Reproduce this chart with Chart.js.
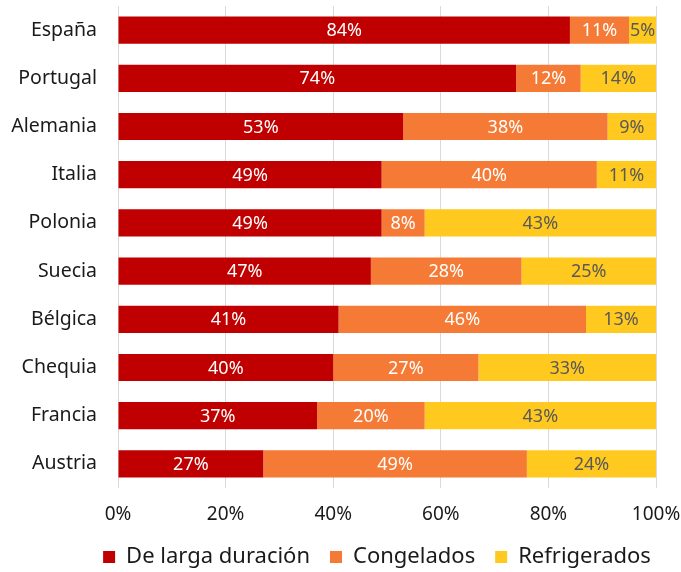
<!DOCTYPE html>
<html>
<head>
<meta charset="utf-8">
<script src="https://cdn.jsdelivr.net/npm/chart.js@4"></script>
<style>
  html, body { margin: 0; padding: 0; background: #fff; }
  #wrap { width: 681px; height: 572px; }
</style>
</head>
<body>
<div id="wrap"><canvas id="myChart"></canvas></div>
<script>
var countries = ["España", "Portugal", "Alemania", "Italia", "Polonia", "Suecia", "Bélgica", "Chequia", "Francia", "Austria"];
var largaDuracion = [84, 74, 53, 49, 49, 47, 41, 40, 37, 27];
var congelados = [11, 12, 38, 40, 8, 28, 46, 27, 20, 49];
var refrigerados = [5, 14, 9, 11, 43, 25, 13, 33, 43, 24];
var xTicks = [0, 20, 40, 60, 80, 100];

var FONT = "'Noto Sans', sans-serif";

// writes the % value in the middle of each bar piece
var barLabels = {
  id: 'barLabels',
  beforeDraw(chart) {
    // legend sits centred under the plot area rather than the whole canvas
    chart.legend.left = 36;
    chart.legend.right = 718;
  },
  afterDatasetsDraw(chart) {
    const ctx = chart.ctx;
    ctx.save();
    ctx.font = "18px " + FONT;
    ctx.textAlign = 'center';
    ctx.textBaseline = 'middle';
    chart.data.datasets.forEach((ds, i) => {
      const meta = chart.getDatasetMeta(i);
      meta.data.forEach((bar, j) => {
        const left = Math.min(bar.x, bar.base);
        const right = Math.max(bar.x, bar.base);
        ctx.fillStyle = ds.labelColor;
        ctx.fillText(ds.data[j] + '%', (left + right) / 2, bar.y + 1);
      });
    });
    ctx.restore();
  }
};

const ctx = document.getElementById('myChart');

new Chart(ctx, {
  type: 'bar',
  data: {
    labels: countries,
    datasets: [
      { label: 'De larga duración', data: largaDuracion, backgroundColor: '#C00000', labelColor: '#ffffff' },
      { label: 'Congelados', data: congelados, backgroundColor: '#F47A35', labelColor: '#ffffff' },
      { label: 'Refrigerados', data: refrigerados, backgroundColor: '#FFC91F', labelColor: '#595959' }
    ]
  },
  options: {
    indexAxis: 'y',
    responsive: true,
    maintainAspectRatio: false,
    animation: false,
    categoryPercentage: 1,
    barPercentage: 0.565,
    layout: { padding: { top: 6, right: 25, left: 0, bottom: -6 } },
    scales: {
      x: {
        stacked: true,
        min: 0,
        max: 100,
        afterBuildTicks: (axis) => { axis.ticks = xTicks.map(v => ({ value: v })); },
        afterFit: (axis) => { axis.height = 38; axis.paddingRight = 0; axis.paddingLeft = 0; },
        grid: { color: '#d9d9d9', lineWidth: 1, drawTicks: false },
        border: { display: false },
        ticks: {
          padding: 15,
          color: '#1a1a1a',
          font: { family: FONT, size: 19 },
          callback: (v) => v + '%'
        }
      },
      y: {
        stacked: true,
        afterFit: (axis) => { axis.width = 118; axis.paddingTop = 0; axis.paddingBottom = 0; },
        grid: { display: false },
        border: { display: false },
        ticks: {
          padding: 13,
          color: '#1a1a1a',
          font: { family: FONT, size: 19.5 }
        }
      }
    },
    plugins: {
      legend: {
        position: 'bottom',
        labels: {
          boxWidth: 12,
          boxHeight: 12,
          padding: 20,
          color: '#1a1a1a',
          font: { family: FONT, size: 22 }
        }
      },
      tooltip: { enabled: false }
    }
  },
  plugins: [barLabels]
});
</script>
</body>
</html>
